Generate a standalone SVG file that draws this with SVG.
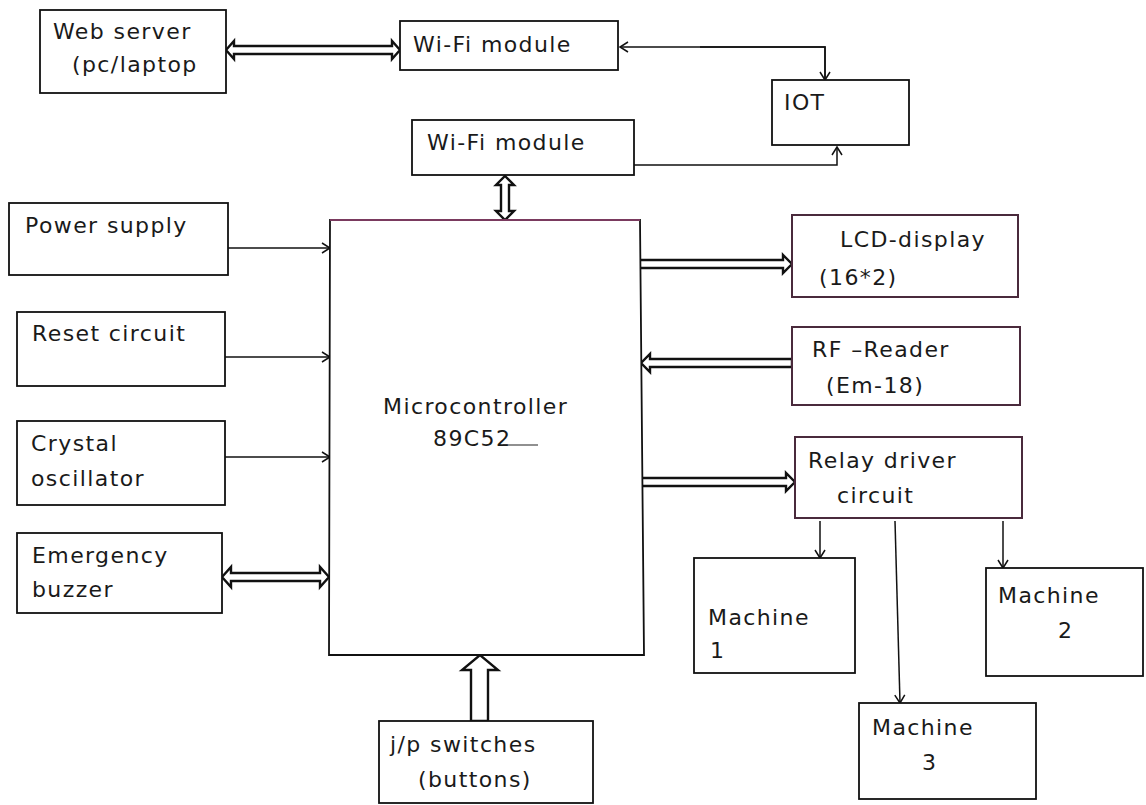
<svg xmlns="http://www.w3.org/2000/svg" width="1146" height="805" viewBox="0 0 1146 805">
<style>
.box{fill:#fff;stroke:#111;stroke-width:1.8}
.pbox{fill:#fff;stroke:#4a2a3c;stroke-width:2}
.t{font-family:"DejaVu Sans",sans-serif;font-size:22px;letter-spacing:1.4px;fill:#1a1a1a}
.ln{fill:none;stroke:#111;stroke-width:1.5}
.fat{fill:#fff;stroke:#111;stroke-width:2.4;stroke-linejoin:miter}
</style>
<defs>
<marker id="ah" markerWidth="12" markerHeight="12" refX="9" refY="6" orient="auto" markerUnits="userSpaceOnUse">
<path d="M1,1 L9,6 L1,11" fill="none" stroke="#111" stroke-width="1.5"/>
</marker>
</defs>
<rect width="1146" height="805" fill="#fff"/>

<g id="connectors">
<polygon class="fat" points="226,50 234,41 234,46 392,46 392,41 400,50 392,59 392,54 234,54 234,59"/>
<polyline class="ln" points="825,78 825,47 620,47" marker-end="url(#ah)"/>
<polyline class="ln" points="700,47 825,47 825,80" marker-end="url(#ah)"/>
<polyline class="ln" points="634,165 837,165 837,147" marker-end="url(#ah)"/>
<polygon class="fat" points="505,176 514,185 509,185 509,211 514,211 505,220 496,211 501,211 501,185 496,185"/>
<line class="ln" x1="228" y1="248" x2="330" y2="248" marker-end="url(#ah)"/>
<line class="ln" x1="225" y1="357" x2="330" y2="357" marker-end="url(#ah)"/>
<line class="ln" x1="225" y1="457" x2="330" y2="457" marker-end="url(#ah)"/>
<polygon class="fat" points="222,577 231,567 231,573 320,573 320,567 329,577 320,587 320,581 231,581 231,587"/>
<polygon class="fat" points="638,260 783,260 783,255 792,264 783,273 783,268 638,268"/>
<polygon class="fat" points="792,359 650,359 650,354 641,363 650,372 650,367 792,367"/>
<polygon class="fat" points="640,478 786,478 786,473 795,482 786,491 786,486 640,486"/>
<polygon class="fat" points="471,721 471,670 462,670 480,655 498,670 488,670 488,721"/>
<line class="ln" x1="820" y1="521" x2="820" y2="558" marker-end="url(#ah)"/>
<line class="ln" x1="895" y1="521" x2="900" y2="703" marker-end="url(#ah)"/>
<line class="ln" x1="1003" y1="521" x2="1003" y2="568" marker-end="url(#ah)"/>
</g>

<g id="web-server">
<rect class="box" x="40" y="10" width="186" height="83"/>
<text class="t" x="53" y="39">Web server</text>
<text class="t" x="72" y="72">(pc/laptop</text>
</g>

<g id="wifi-top">
<rect class="box" x="400" y="21" width="218" height="49"/>
<text class="t" x="413" y="52">Wi-Fi module</text>
</g>

<g id="iot">
<rect class="box" x="772" y="80" width="137" height="65"/>
<text class="t" x="784" y="110">IOT</text>
</g>

<g id="wifi-bottom">
<rect class="box" x="412" y="120" width="222" height="55"/>
<text class="t" x="427" y="150">Wi-Fi module</text>
</g>

<g id="power-supply">
<rect class="box" x="9" y="203" width="219" height="72"/>
<text class="t" x="25" y="233">Power supply</text>
</g>

<g id="reset-circuit">
<rect class="box" x="17" y="312" width="208" height="74"/>
<text class="t" x="32" y="341">Reset circuit</text>
</g>

<g id="crystal-oscillator">
<rect class="box" x="17" y="421" width="208" height="84"/>
<text class="t" x="31" y="451">Crystal</text>
<text class="t" x="31" y="486">oscillator</text>
</g>

<g id="emergency-buzzer">
<rect class="box" x="17" y="533" width="205" height="80"/>
<text class="t" x="32" y="563">Emergency</text>
<text class="t" x="32" y="597">buzzer</text>
</g>

<g id="microcontroller">
<path d="M330,220 L640,220 L644,655 L329,655 Z" fill="#fff" stroke="#111" stroke-width="1.8"/>
<line x1="330" y1="220" x2="640" y2="220" stroke="#7a3a5e" stroke-width="2"/>
<text class="t" x="383" y="414">Microcontroller</text>
<text class="t" x="433" y="446">89C52</text>
<line x1="503" y1="445" x2="538" y2="445" stroke="#222" stroke-width="1.2"/>
</g>

<g id="lcd-display">
<rect class="pbox" x="792" y="215" width="226" height="82"/>
<text class="t" x="840" y="247">LCD-display</text>
<text class="t" x="819" y="285">(16*2)</text>
</g>

<g id="rf-reader">
<rect class="pbox" x="792" y="327" width="228" height="78"/>
<text class="t" x="812" y="357">RF –Reader</text>
<text class="t" x="826" y="393">(Em-18)</text>
</g>

<g id="relay-driver">
<rect class="pbox" x="795" y="437" width="227" height="81"/>
<text class="t" x="808" y="468">Relay driver</text>
<text class="t" x="837" y="503">circuit</text>
</g>

<g id="machine-1">
<rect class="box" x="694" y="558" width="161" height="115"/>
<text class="t" x="708" y="625">Machine</text>
<text class="t" x="710" y="658">1</text>
</g>

<g id="machine-2">
<rect class="box" x="986" y="568" width="157" height="108"/>
<text class="t" x="998" y="603">Machine</text>
<text class="t" x="1058" y="638">2</text>
</g>

<g id="machine-3">
<rect class="box" x="859" y="703" width="177" height="96"/>
<text class="t" x="872" y="735">Machine</text>
<text class="t" x="922" y="770">3</text>
</g>

<g id="ip-switches">
<rect class="box" x="379" y="721" width="214" height="82"/>
<text class="t" x="390" y="752">j/p  switches</text>
<text class="t" x="418" y="787">(buttons)</text>
</g>
</svg>
